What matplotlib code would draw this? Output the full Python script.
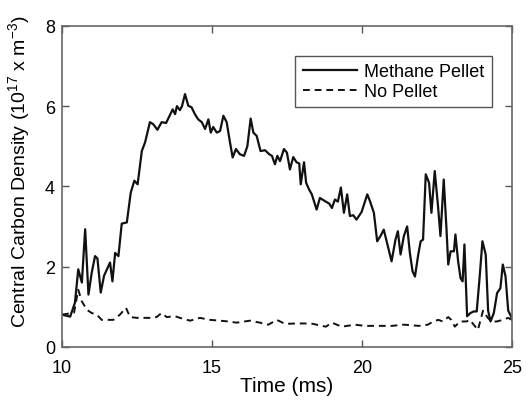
import matplotlib
matplotlib.use("Agg")
import matplotlib.pyplot as plt

plt.rcParams['font.family'] = ['Liberation Sans', 'DejaVu Sans']
plt.rcParams['mathtext.fontset'] = 'custom'
plt.rcParams['mathtext.rm'] = 'Liberation Sans'
plt.rcParams['mathtext.it'] = 'Liberation Sans'

# Methane Pellet (solid)
t_pellet = [10.0, 10.27, 10.43, 10.54, 10.66, 10.77, 10.88, 10.99, 11.1, 11.18, 11.29, 11.4,
            11.54, 11.6, 11.68, 11.77, 11.88, 11.99, 12.16, 12.29, 12.41, 12.52, 12.66, 12.77,
            12.93, 13.04, 13.18, 13.32, 13.47, 13.58, 13.69, 13.77, 13.83, 13.93, 14.0, 14.1,
            14.21, 14.32, 14.43, 14.54, 14.66, 14.77, 14.88, 14.96, 15.04, 15.16, 15.27, 15.38,
            15.49, 15.6, 15.69, 15.8, 15.93, 16.07, 16.18, 16.29, 16.38, 16.49, 16.62, 16.77,
            16.91, 17.0, 17.1, 17.18, 17.27, 17.4, 17.5, 17.6, 17.71, 17.82, 17.91, 17.96,
            18.07, 18.14, 18.24, 18.33, 18.49, 18.6, 18.77, 18.91, 19.0, 19.1, 19.2, 19.3,
            19.4, 19.51, 19.6, 19.71, 19.82, 19.99, 20.18, 20.27, 20.4, 20.51, 20.62, 20.73,
            20.84, 20.99, 21.12, 21.2, 21.29, 21.4, 21.51, 21.6, 21.69, 21.77, 21.88, 21.96,
            22.04, 22.13, 22.24, 22.32, 22.43, 22.54, 22.62, 22.73, 22.82, 22.88, 22.96, 23.07,
            23.12, 23.21, 23.29, 23.36, 23.42, 23.51, 23.62, 23.73, 23.83, 23.93, 24.02, 24.13,
            24.21, 24.29, 24.4, 24.51, 24.62, 24.7, 24.79, 24.88, 25.0]
y_pellet = [0.8, 0.75, 1.1, 1.93, 1.6, 2.93, 1.3, 1.85, 2.26, 2.2, 1.35, 1.77,
            2.0, 2.1, 1.63, 2.34, 2.26, 3.07, 3.1, 3.84, 4.14, 4.05, 4.88, 5.1,
            5.6, 5.55, 5.41, 5.6, 5.58, 5.75, 5.92, 5.8, 6.0, 5.9, 6.0, 6.3,
            6.01, 5.97, 5.8, 5.67, 5.6, 5.43, 5.67, 5.34, 5.48, 5.34, 5.38, 5.76,
            5.6, 5.1, 4.72, 4.93, 4.8, 4.76, 5.0, 5.69, 5.34, 5.26, 4.88, 4.9,
            4.8, 4.76, 4.55, 4.76, 4.63, 4.93, 4.84, 4.42, 4.73, 4.6, 4.57, 4.05,
            4.6, 4.09, 3.92, 3.8, 3.42, 3.71, 3.63, 3.57, 3.46, 3.67, 3.62, 3.97,
            3.34, 3.8, 3.26, 3.28, 3.17, 3.36, 3.8, 3.63, 3.34, 2.63, 2.76, 2.92,
            2.59, 2.13, 2.67, 2.88, 2.3, 2.76, 3.0, 2.34, 1.88, 1.75, 2.3, 2.63,
            2.67, 4.3, 4.09, 3.34, 4.38, 3.5, 2.76, 4.17, 2.96, 2.05, 2.38, 2.38,
            2.8, 2.13, 1.71, 1.63, 2.55, 0.76, 0.84, 0.88, 0.88, 1.76, 2.63, 2.3,
            0.9, 0.63, 0.84, 1.34, 1.46, 2.05, 1.76, 0.9, 0.72]

# No Pellet (dashed)
t_none = [10.0, 10.4, 10.54, 10.66, 10.83, 10.99, 11.16, 11.32, 11.54, 11.71, 11.93, 12.13,
          12.27, 12.49, 12.71, 12.99, 13.15, 13.32, 13.49, 13.77, 13.93, 14.27, 14.6, 14.93,
          15.27, 15.54, 15.82, 16.27, 16.6, 16.88, 17.16, 17.44, 17.82, 18.3, 18.8, 19.0,
          19.33, 19.77, 20.1, 20.54, 21.0, 21.4, 21.9, 22.2, 22.38, 22.55, 22.7, 22.88,
          22.98, 23.1, 23.27, 23.49, 23.6, 23.87, 24.04, 24.2, 24.32, 24.5, 24.7, 24.88, 25.0]
y_none = [0.8, 0.85, 1.42, 1.13, 0.92, 0.84, 0.8, 0.67, 0.67, 0.67, 0.8, 0.97,
          0.74, 0.72, 0.72, 0.72, 0.74, 0.84, 0.74, 0.76, 0.72, 0.65, 0.72, 0.67,
          0.65, 0.63, 0.6, 0.65, 0.6, 0.55, 0.67, 0.57, 0.58, 0.58, 0.5, 0.6,
          0.5, 0.55, 0.52, 0.52, 0.52, 0.55, 0.52, 0.55, 0.63, 0.67, 0.63, 0.74,
          0.67, 0.5, 0.63, 0.63, 0.67, 0.42, 0.9, 0.72, 0.63, 0.63, 0.67, 0.72, 0.67]

x_ticks = [10, 15, 20, 25]
y_ticks = [0, 2, 4, 6, 8]

fig = plt.figure(figsize=(5.26, 4.02), dpi=100)
ax = fig.add_axes([0.118, 0.135, 0.855, 0.798])

ax.plot(t_pellet, y_pellet, color='#111111', lw=1.6, ls='-', label='Methane Pellet')
ax.plot(t_none, y_none, color='#111111', lw=1.4, ls=(0, (3.5, 2.5)), label='No Pellet')

ax.set_xlim(10, 25)
ax.set_ylim(0, 8)
ax.set_xticks(x_ticks)
ax.set_yticks(y_ticks)
ax.tick_params(direction='in', top=True, right=True, length=5, width=1,
               color='#555555', labelsize=13)
ax.tick_params(axis='x', pad=9)
ax.tick_params(axis='y', pad=5)
for s in ax.spines.values():
    s.set_color('#666666')
    s.set_linewidth(1.2)

ax.set_xlabel('Time (ms)', fontsize=15, labelpad=0)
ax.set_ylabel('Central Carbon Density (10$^{17}$ x m$^{-3}$)', fontsize=14)
ax.yaxis.set_label_coords(-0.066, 0.55)

leg = ax.legend(loc='upper right', bbox_to_anchor=(0.955, 0.906), borderaxespad=0,
                fontsize=13, fancybox=False, framealpha=1, edgecolor='#555555',
                handlelength=3.0, borderpad=0.4, labelspacing=0.15, handletextpad=0.4)
leg.get_frame().set_linewidth(1.0)

fig.savefig('out.png', dpi=100)
